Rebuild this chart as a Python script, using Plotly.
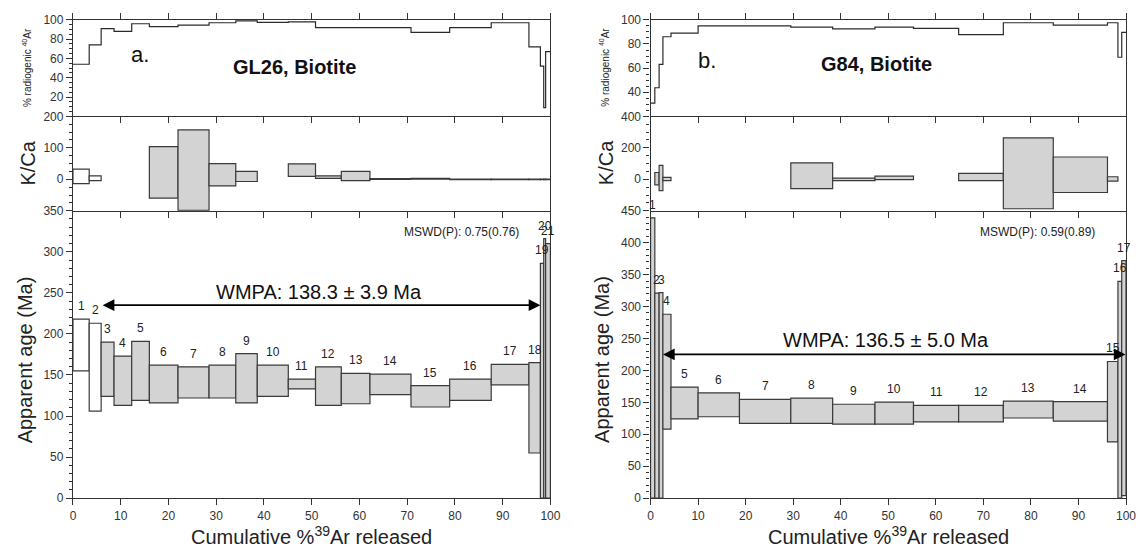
import plotly.graph_objects as go

# ---------------- DATA ----------------
# Panel a: GL26 Biotite
edges_a = [0, 3.4, 5.9, 8.6, 12.3, 16.0, 22.0, 28.5, 34.1, 38.6, 45.1, 50.8, 56.2,
           62.2, 70.8, 78.9, 87.6, 95.5, 97.9, 98.6, 99.0, 100]
age_lo_a = [155, 106, 124, 113, 119, 116, 122, 122, 116, 124, 133, 113, 115, 126,
            111, 119, 138, 55, 0, 0, 0]
age_hi_a = [218, 213, 190, 173, 191, 162, 160, 162, 176, 162, 145, 160, 152, 151,
            137, 145, 163, 165, 286, 316, 310]
rad_a = [54, 74, 91, 88, 96, 93, 94.5, 97, 99, 97.3, 98, 92, 92, 92, 87, 92, 97,
         72, 52, 9, 67]
kca_lo_a = [-14, -4, None, None, None, -60, -99, -21, -7, None, 9, 3, -4, 0, 0.5,
            -1, -1, -1, -1, -1, -1]
kca_hi_a = [32, 11, None, None, None, 104, 157, 50, 25, None, 49, 11, 25, 2, 3,
            0.5, 0.5, 0.5, 0.5, 0.5, 0.5]
included_a = [False, False] + [True] * 19
wmpa_a = "WMPA: 138.3 ± 3.9 Ma"
mswd_a = "MSWD(P): 0.75(0.76)"
plateau_a = [5.9, 97.9]
plateau_y_a = 235

# Panel b: G84 Biotite
edges_b = [0, 0.9, 1.8, 2.6, 4.3, 10.0, 18.7, 29.5, 38.3, 47.2, 55.3, 64.8, 74.2,
           84.7, 96.1, 98.3, 99.1, 100]
age_lo_b = [0, 0, 0, 108, 124, 127.5, 117, 117, 116, 116, 119.5, 119.5, 125.5,
            120.5, 88, 0, 4]
age_hi_b = [439, 321, 322, 288, 174, 165, 154.6, 156.6, 147, 150.5, 145.4, 145.4,
            152, 151, 214, 339.5, 372]
rad_b = [31, 43.7, 63, 86, 89, 95, 95, 94, 92.5, 94, 93, 87.7, 97.6, 95.7, 97.6,
         69, 89.6]
kca_lo_b = [None, -35, -72, -8, None, None, None, -59.5, -8, -2, None, -8, -187,
            -84, -12, None, None]
kca_hi_b = [None, 43, 88, 12, None, None, None, 104.6, 8, 20, None, 37, 262.6,
            141.5, 16, None, None]
included_b = [True] * 17
wmpa_b = "WMPA: 136.5 ± 5.0 Ma"
mswd_b = "MSWD(P): 0.59(0.89)"
plateau_b = [2.3, 99.9]
plateau_y_b = 225

# ---------------- STYLE ----------------
OFF = 8                      # default body margin of the html page
W, H = 1145 - 2 * OFF, 556 - 2 * OFF
FONT = "Liberation Sans, Arial, sans-serif"
EDGE = "#3a3a3a"
GRAY = "#d3d3d3"
AX = "#333333"


def px(X):
    return (X - OFF) / W


def py(Y):
    return 1 - (Y - OFF) / H


def xd(a, b):
    return [px(a), min(px(b), 1.0)]


def yd(top, bot):
    return [py(bot), py(top)]


fig = go.Figure()
layout = dict(width=W, height=H, margin=dict(l=0, r=0, t=0, b=0, pad=0),
              paper_bgcolor="white", plot_bgcolor="white", showlegend=False,
              barmode="overlay", font=dict(family=FONT, color="#222"))
annotations = []

panels = [
    dict(n=0, xdom=(70.7, 553.7), edges=edges_a, lo=age_lo_a, hi=age_hi_a, rad=rad_a,
         klo=kca_lo_a, khi=kca_hi_a, inc=included_a, wmpa=wmpa_a, mswd=mswd_a,
         plat=plateau_a, platy=plateau_y_a, radrange=[0, 100], radticks=[20, 40, 60, 80, 100],
         krange=[-100, 200], kticks=[0, 100, 200], kminor=25,
         arange=[0, 350], aticks=list(range(0, 351, 50)),
         letter="a.", letter_xy=(14.1, 64), name="GL26, Biotite", name_xy=(46.4, 51),
         wmpa_xy=(51.5, 251), mswd_xy=(81.3, 324)),
    dict(n=1, xdom=(655, 1136), edges=edges_b, lo=age_lo_b, hi=age_hi_b, rad=rad_b,
         klo=kca_lo_b, khi=kca_hi_b, inc=included_b, wmpa=wmpa_b, mswd=mswd_b,
         plat=plateau_b, platy=plateau_y_b, radrange=[20, 100], radticks=[40, 60, 80, 100],
         krange=[-200, 400], kticks=[0, 200, 400], kminor=50,
         arange=[0, 450], aticks=list(range(0, 451, 50)),
         letter="b.", letter_xy=(11.9, 66), name="G84, Biotite", name_xy=(47.6, 63),
         wmpa_xy=(49.6, 248), mswd_xy=(81.3, 416)),
]

rows = [(13, 112), (112, 209), (209, 504)]

for p in panels:
    base = p["n"] * 3
    ids = [base + 1, base + 2, base + 3]
    xs = ["x" if i == 1 else f"x{i}" for i in ids]
    ys = ["y" if i == 1 else f"y{i}" for i in ids]
    edges = p["edges"]
    centers = [(edges[i] + edges[i + 1]) / 2 for i in range(len(edges) - 1)]
    widths = [edges[i + 1] - edges[i] for i in range(len(edges) - 1)]

    # radiogenic step line
    fig.add_trace(go.Scatter(x=edges, y=p["rad"] + [p["rad"][-1]], mode="lines",
                             line=dict(shape="hv", color="#2a2a2a", width=1.2),
                             xaxis=xs[0], yaxis=ys[0], hoverinfo="skip"))
    # K/Ca boxes
    kx, kw, kb, kh, kc = [], [], [], [], []
    for i, (a, b) in enumerate(zip(p["klo"], p["khi"])):
        if a is None:
            continue
        kx.append(centers[i]); kw.append(widths[i]); kb.append(a); kh.append(b - a)
        kc.append(GRAY if p["inc"][i] else "white")
    fig.add_trace(go.Bar(x=kx, y=kh, base=kb, width=kw,
                         marker=dict(color=kc, line=dict(color=EDGE, width=1.2)),
                         xaxis=xs[1], yaxis=ys[1], hoverinfo="skip"))
    # age spectrum boxes
    ac = [GRAY if v else "white" for v in p["inc"]]
    fig.add_trace(go.Bar(x=centers, y=[h - l for h, l in zip(p["hi"], p["lo"])],
                         base=p["lo"], width=widths,
                         marker=dict(color=ac, line=dict(color=EDGE, width=1.2)),
                         xaxis=xs[2], yaxis=ys[2], hoverinfo="skip"))

    # step numbers
    for i, (c, h) in enumerate(zip(centers, p["hi"])):
        annotations.append(dict(x=c, y=h, xref=xs[2], yref=ys[2], text=str(i + 1),
                                showarrow=False, yshift=13, xanchor="center",
                                yanchor="middle", font=dict(size=12, color="#222")))

    # axes
    yranges = [p["radrange"], p["krange"], p["arange"]]
    yticks = [p["radticks"], p["kticks"], p["aticks"]]
    yminor = [5, p["kminor"], 10]
    for r in range(3):
        xkey = "xaxis" if ids[r] == 1 else f"xaxis{ids[r]}"
        ykey = "yaxis" if ids[r] == 1 else f"yaxis{ids[r]}"
        layout[xkey] = dict(domain=xd(*p["xdom"]), anchor=ys[r], range=[0, 100],
                            dtick=10, tick0=0, ticks="outside", ticklen=6, tickwidth=1,
                            tickcolor=AX, showline=True, linecolor=AX, linewidth=1.2,
                            mirror="ticks" if r == 0 else False,
                            showticklabels=(r == 2), showgrid=False, zeroline=False,
                            tickfont=dict(size=12, color="#333", family=FONT),
                            fixedrange=True)
        layout[ykey] = dict(domain=yd(*rows[r]), anchor=xs[r], range=yranges[r],
                            tickmode="array", tickvals=yticks[r], ticks="outside",
                            ticklen=6, tickwidth=1, tickcolor=AX,
                            minor=dict(ticks="outside", ticklen=3, dtick=yminor[r],
                                       tick0=0, tickcolor=AX),
                            showline=True, linecolor=AX, linewidth=1.2, mirror=True,
                            showgrid=False, zeroline=False,
                            tickfont=dict(size=12, color="#333", family=FONT),
                            fixedrange=True)

    # plateau arrow
    annotations.append(dict(x=p["plat"][1], y=p["platy"], ax=p["plat"][0], ay=p["platy"],
                            xref=xs[2], yref=ys[2], axref=xs[2], ayref=ys[2], text="",
                            showarrow=True, arrowhead=2, startarrowhead=2,
                            arrowside="end+start", arrowsize=1.3, startarrowsize=1.3,
                            arrowwidth=1.8, arrowcolor="black"))
    annotations.append(dict(x=p["wmpa_xy"][0], y=p["wmpa_xy"][1], xref=xs[2], yref=ys[2],
                            text=p["wmpa"], showarrow=False, xanchor="center",
                            yanchor="middle",
                            font=dict(size=20, color="#111", family=FONT)))
    annotations.append(dict(x=p["mswd_xy"][0], y=p["mswd_xy"][1], xref=xs[2], yref=ys[2],
                            text=p["mswd"], showarrow=False, xanchor="center",
                            yanchor="middle",
                            font=dict(size=12, color="#222", family=FONT)))
    annotations.append(dict(x=p["letter_xy"][0], y=p["letter_xy"][1], xref=xs[0], yref=ys[0],
                            text=p["letter"], showarrow=False, xanchor="center",
                            yanchor="middle",
                            font=dict(size=22, color="#111", family=FONT)))
    annotations.append(dict(x=p["name_xy"][0], y=p["name_xy"][1], xref=xs[0], yref=ys[0],
                            text="<b>" + p["name"] + "</b>", showarrow=False,
                            xanchor="center", yanchor="middle",
                            font=dict(size=20, color="#111",
                                      family="Liberation Sans Narrow, Arial Narrow, " + FONT)))

    # axis titles
    x0, x1 = p["xdom"]
    annotations.append(dict(x=px(x0 - 47), y=py(62), xref="paper", yref="paper",
                            text="% radiogenic <sup>40</sup>Ar", textangle=-90,
                            xanchor="center", yanchor="middle", showarrow=False,
                            font=dict(size=10, color="#222", family=FONT)))
    annotations.append(dict(x=px(x0 - 45), y=py(160), xref="paper", yref="paper",
                            text="K/Ca", textangle=-90, xanchor="center",
                            yanchor="middle", showarrow=False,
                            font=dict(size=20, color="#222", family=FONT)))
    annotations.append(dict(x=px(x0 - 49), y=py(362), xref="paper", yref="paper",
                            text="Apparent age (Ma)", textangle=-90, xanchor="center",
                            yanchor="middle", showarrow=False,
                            font=dict(size=20, color="#222", family=FONT)))
    annotations.append(dict(x=px((x0 + x1) / 2), y=py(542), xref="paper", yref="paper",
                            text="Cumulative %<sup>39</sup>Ar released", showarrow=False,
                            xanchor="center", yanchor="middle",
                            font=dict(size=20, color="#222", family=FONT)))

layout["annotations"] = annotations
fig.update_layout(**layout)
fig.write_html("out.html")
